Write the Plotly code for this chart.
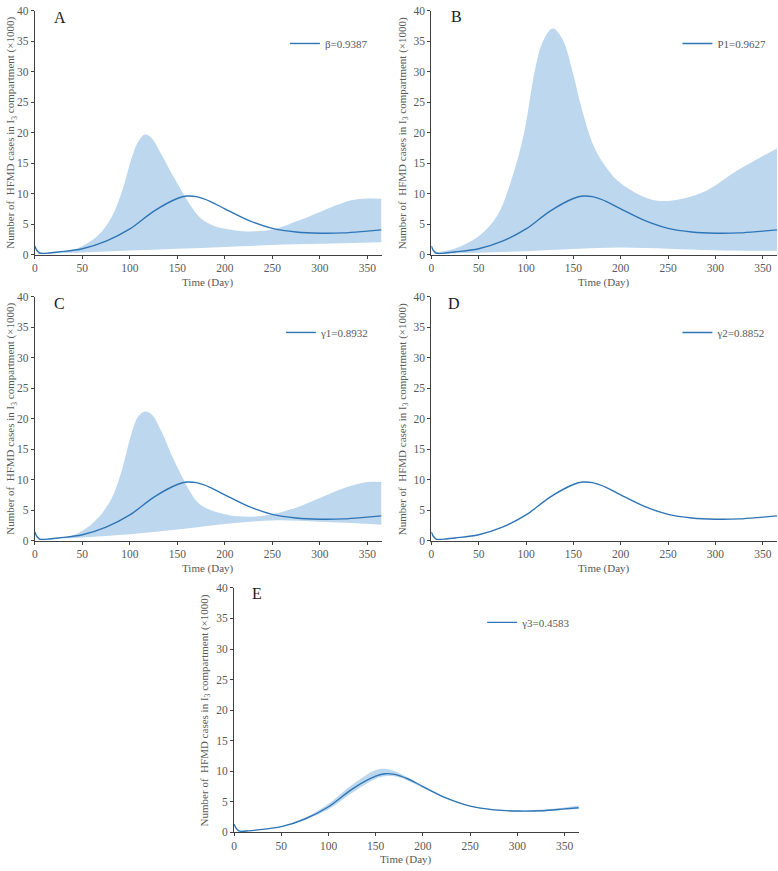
import plotly.graph_objects as go

# ---------------- data ----------------
days_center = [0, 2, 5, 8, 15, 25, 50, 75, 100, 125, 150, 160, 170, 185, 200, 225, 250, 275, 300, 325, 350, 365]
center_vals = [1.4, 0.7, 0.25, 0.18, 0.25, 0.42, 0.95, 2.2, 4.2, 7.1, 9.2, 9.6, 9.5, 8.7, 7.5, 5.6, 4.3, 3.7, 3.5, 3.55, 3.85, 4.05]

a_up_days = [3, 33, 49, 67, 81, 92, 102, 109, 116, 123, 133, 144, 154, 165, 175, 190, 210, 228, 250, 280, 300, 333, 350, 365]
a_up_vals = [0.3, 0.5, 1.3, 3.2, 6.2, 10.5, 15.9, 18.6, 19.7, 19.1, 16.5, 13.3, 10.6, 7.8, 5.9, 4.6, 4.0, 3.8, 4.1, 5.7, 7.0, 8.9, 9.2, 9.15]
a_lo_days = [3, 50, 100, 150, 200, 250, 300, 365]
a_lo_vals = [0.12, 0.35, 0.65, 0.95, 1.25, 1.55, 1.75, 2.0]

b_up_days = [3, 25, 50, 70, 85, 98, 109, 117, 128, 138, 150, 157, 172, 186, 200, 229, 250, 288, 323, 365]
b_up_vals = [0.3, 1.0, 3.0, 6.5, 12.5, 20.0, 30.0, 34.7, 37.1, 35.5, 29.5, 25.0, 17.6, 14.0, 11.7, 9.2, 8.8, 10.3, 13.8, 17.4]
b_lo_days = [3, 50, 100, 150, 200, 250, 300, 365]
b_lo_vals = [0.12, 0.3, 0.55, 0.9, 1.15, 0.95, 0.7, 0.6]

c_up_days = [3, 33, 50, 67, 81, 92, 102, 109, 116, 123, 134, 144, 154, 165, 175, 200, 225, 250, 275, 300, 325, 350, 365]
c_up_vals = [0.3, 0.5, 1.6, 3.8, 7.0, 11.8, 17.7, 20.4, 21.2, 20.7, 17.7, 14.0, 10.8, 7.6, 5.8, 4.3, 3.9, 4.3, 5.4, 7.0, 8.6, 9.6, 9.6]
c_lo_days = [3, 50, 100, 150, 200, 250, 300, 350, 365]
c_lo_vals = [0.12, 0.5, 1.05, 1.8, 2.7, 3.3, 3.1, 2.75, 2.6]

e_band_days = [3, 50, 75, 100, 125, 150, 160, 175, 200, 225, 250, 300, 350, 365]
e_up_vals = [0.25, 0.95, 2.4, 4.7, 7.8, 10.2, 10.4, 9.7, 7.6, 5.7, 4.35, 3.6, 4.1, 4.4]
e_lo_vals = [0.2, 0.9, 2.1, 3.8, 6.5, 8.8, 9.2, 9.0, 7.3, 5.5, 4.25, 3.4, 3.7, 3.85]

panel_letters = ["A", "B", "C", "D", "E"]
legend_names = ["β=0.9387", "P1=0.9627", "γ1=0.8932", "γ2=0.8852", "γ3=0.4583"]
x_ticks = [0, 50, 100, 150, 200, 250, 300, 350]
y_ticks = [0, 5, 10, 15, 20, 25, 30, 35, 40]
x_title = "Time (Day)"
y_title = "Number of  HFMD cases in I<sub>3</sub> compartment (×1000)"

bands = [
    (a_up_days, a_up_vals, a_lo_days, a_lo_vals),
    (b_up_days, b_up_vals, b_lo_days, b_lo_vals),
    (c_up_days, c_up_vals, c_lo_days, c_lo_vals),
    None,
    (e_band_days, e_up_vals, e_band_days, e_lo_vals),
]

# ---------------- layout geometry (pixels) ----------------
W, H = 778, 871
boxes = [
    (32, 380, 5, 252),
    (430, 777, 5, 252),
    (32, 380, 295, 542),
    (430, 777, 295, 542),
    (232, 578, 590, 838),
]
ytitle_x = [8, 401, 8, 401, 203]
xtitle_pos = [(206, 280), (603, 280), (206, 570), (603, 570), (405, 865)]
letter_pos = [(57, 12), (455, 11), (57, 302), (453, 302), (255, 596)]
legend_pos = [(283, 38), (677, 38), (279, 331), (677, 331), (481, 625)]

BAND = "#bdd7ee"
LINE = "#2e75b6"
FONT = "Liberation Serif"
GREY = "#595959"

fig = go.Figure()
layout = dict(
    width=W, height=H, margin=dict(l=0, r=0, t=0, b=0),
    paper_bgcolor="white", plot_bgcolor="white",
    font=dict(family=FONT, size=11, color=GREY),
    annotations=[],
)

for i in range(5):
    ax = "" if i == 0 else str(i + 1)
    xref, yref = "x" + ax, "y" + ax
    x0, x1, yt, yb = boxes[i]
    layout["xaxis" + ax] = dict(
        domain=[x0 / W, x1 / W], anchor=yref, range=[0, 365],
        tickvals=x_ticks, ticks="outside", ticklen=3, tickcolor="#404040",
        showline=True, linecolor="#404040", linewidth=1, showgrid=False, zeroline=False,
        tickfont=dict(family=FONT, size=11.5, color=GREY),
    )
    layout["yaxis" + ax] = dict(
        domain=[1 - yb / H, 1 - yt / H], anchor=xref, range=[0, 40],
        tickvals=y_ticks, ticks="outside", ticklen=3, tickcolor="#404040",
        showline=True, linecolor="#404040", linewidth=1, showgrid=False, zeroline=False,
        tickfont=dict(family=FONT, size=11.5, color=GREY),
    )
    band = bands[i]
    if band is not None:
        ud, uv, ld, lv = band
        fig.add_trace(go.Scatter(x=ld, y=lv, mode="lines", line=dict(width=0, color=BAND, shape="spline"),
                                 showlegend=False, hoverinfo="skip", xaxis=xref, yaxis=yref))
        fig.add_trace(go.Scatter(x=ud, y=uv, mode="lines", line=dict(width=0, color=BAND, shape="spline"),
                                 fill="tonexty", fillcolor=BAND,
                                 showlegend=False, hoverinfo="skip", xaxis=xref, yaxis=yref))
    leg = "legend" + ("" if i == 0 else str(i + 1))
    fig.add_trace(go.Scatter(x=days_center, y=center_vals, mode="lines",
                             line=dict(color=LINE, width=1.4, shape="spline"),
                             name=legend_names[i], legend=leg, xaxis=xref, yaxis=yref))
    lx, ly = legend_pos[i]
    layout[leg] = dict(x=lx / W, y=1 - ly / H, xanchor="left", yanchor="middle",
                       bgcolor="rgba(0,0,0,0)", font=dict(family=FONT, size=11, color=GREY),
                       itemwidth=30, tracegroupgap=0)
    layout["annotations"].append(dict(
        text=y_title, xref="paper", yref="paper", x=ytitle_x[i] / W, y=1 - ((yt + yb) / 2) / H,
        textangle=-90, showarrow=False, xanchor="center", yanchor="middle",
        font=dict(family=FONT, size=11, color=GREY)))
    tx, ty = xtitle_pos[i]
    layout["annotations"].append(dict(
        text=x_title, xref="paper", yref="paper", x=tx / W, y=1 - ty / H,
        showarrow=False, xanchor="center", yanchor="middle",
        font=dict(family=FONT, size=11, color=GREY)))
    px, py = letter_pos[i]
    layout["annotations"].append(dict(
        text=panel_letters[i], xref="paper", yref="paper", x=px / W, y=1 - py / H,
        showarrow=False, xanchor="center", yanchor="middle",
        font=dict(family=FONT, size=16, color="#1a1a1a")))

fig.update_layout(**layout)
fig.write_html("out.html", config={"displayModeBar": False},
               post_script="document.body.style.margin='0';")
